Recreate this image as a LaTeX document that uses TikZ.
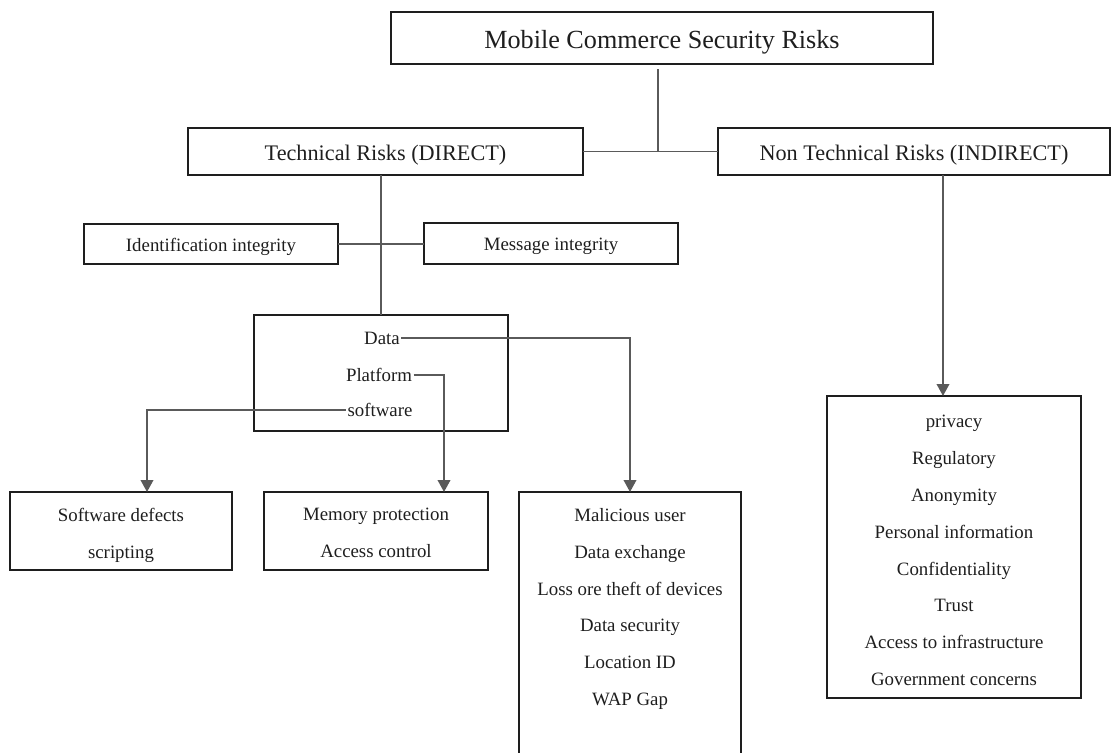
\documentclass[tikz,border=0pt]{standalone}
\usepackage{fontspec}
\setmainfont{Liberation Serif}
\usepackage{tikz}
\usetikzlibrary{arrows.meta,positioning,calc}
\definecolor{figink}{HTML}{1E1E1E}
\definecolor{figline}{HTML}{5A5A5A}

\begin{document}
\begin{tikzpicture}[x=0.025cm, y=-0.025cm,
  box/.style={draw=figink, line width=1.1pt, align=center, inner sep=0pt, outer sep=0pt, text=figink},
  head/.style={box, font=\fontsize{15.8}{19}\selectfont, text height=12.4pt, text depth=0pt, minimum height=1.175cm},
  small/.style={box, font=\fontsize{13.4}{16}\selectfont, text height=10.2pt, text depth=0pt},
  list/.style={align=center, inner sep=0pt, text=figink, font=\fontsize{13.4}{26.2}\selectfont},
  word/.style={font=\fontsize{13.4}{16}\selectfont, text=figink, inner sep=1pt},
  link/.style={draw=figline, line width=1.1pt},
  flow/.style={link, -{Triangle[width=9pt,length=8.5pt]}}]
\useasboundingbox (0,0) rectangle (1113,753);
\clip (0,0) rectangle (1113,753);
\node[box, font=\fontsize{18.6}{22}\selectfont, text height=14.5pt, text depth=0pt, minimum width=13.55cm, minimum height=1.3cm] (top) at (662,38) {Mobile Commerce Security Risks};
\node[head, minimum width=9.875cm] (tech)    at (385.5,151.5) {Technical Risks (DIRECT)};
\node[head, minimum width=9.8cm]   (nontech) at (914,151.5)   {Non Technical Risks (INDIRECT)};
\node[small, minimum width=6.35cm, minimum height=1cm]    (ident) at (211,244)   {Identification integrity};
\node[small, minimum width=6.35cm, minimum height=1.025cm] (msg)  at (551,243.5) {Message integrity};
\node[box, minimum width=6.35cm, minimum height=2.9cm] (core) at (381,373) {};
\node[word] (data) at (382,338) {Data};
\node[word] (plat) at (379,375) {Platform};
\node[word] (soft) at (380,410) {software};
\node[box, minimum width=5.55cm, minimum height=1.95cm] (swdef) at (121,531) {};
\node[list, below=4mm of swdef.north] {Software defects\\scripting};
\node[box, minimum width=5.6cm,  minimum height=1.95cm] (mem) at (376,531) {};
\node[list, below=4mm of mem.north] {Memory protection\\Access control};
\node[box, minimum width=5.55cm, minimum height=6.7cm, anchor=north] (mal) at (630,492) {};
\node[list, below=4mm of mal.north] (malist) {Malicious user\\Data exchange\\Loss ore theft of devices\\Data security\\Location ID\\WAP Gap};
\node[box, minimum width=6.35cm, minimum height=7.55cm] (priv) at (954,547) {};
\node[list, below=4.75mm of priv.north] (privlist) {privacy\\Regulatory\\Anonymity\\Personal information\\Confidentiality\\Trust\\Access to infrastructure\\Government concerns};
\draw[link] ([xshift=-0.1cm, yshift=-0.125cm]top.south) -- ([xshift=-0.1cm]top.south |- tech.east);
\draw[link] (tech.east) -- (nontech.west);
\draw[link] (tech.south -| core.north) -- (core.north);
\draw[link] (ident.east) -- (ident.east -| msg.west);
\draw[flow] (data.east) -| (mal.north);
\draw[flow] (plat.east) -| ([xshift=1.7cm]mem.north);
\draw[flow] (soft.west) -| ([xshift=0.65cm]swdef.north);
\draw[flow] ([xshift=-0.275cm]priv.north |- nontech.south) -- ([xshift=-0.275cm]priv.north);
\end{tikzpicture}
\end{document}
